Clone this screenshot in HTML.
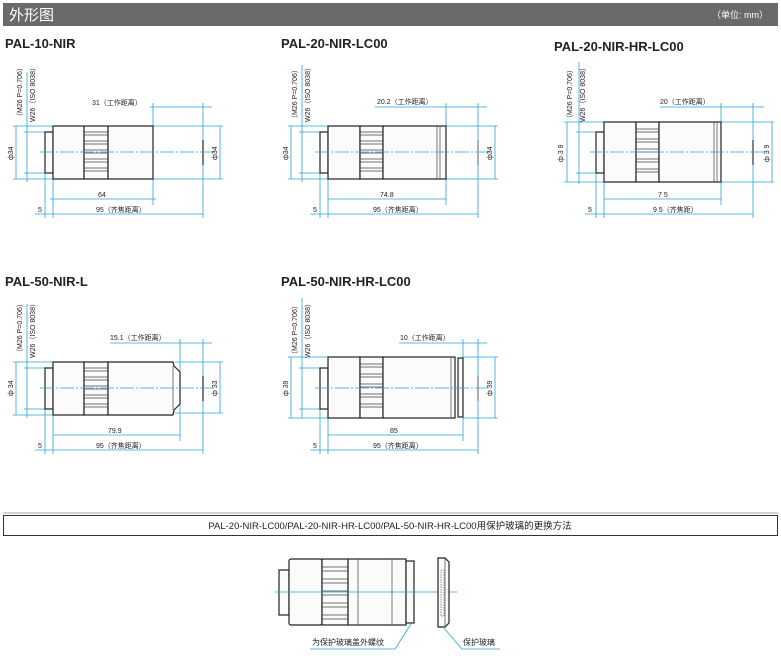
<!DOCTYPE html>
<html><head><meta charset="utf-8"><style>
body{margin:0;background:#fff;width:781px;height:656px;overflow:hidden}
svg{display:block;font-family:"Liberation Sans","Noto Sans CJK SC",sans-serif}
.c{stroke:#2aa3d6;stroke-width:0.8;fill:none}
.cd{stroke:#2aa3d6;stroke-width:0.8;fill:none;stroke-dasharray:14 2 2 2}
.k{stroke:#222;stroke-width:1.2;fill:#fbfbfb}
.kl{stroke:#444;stroke-width:0.7;fill:none}
.t{font-size:7px;fill:#222}
.ti{font-size:13px;font-weight:bold;fill:#222}
</style></head><body>
<svg width="781" height="656" viewBox="0 0 781 656" xmlns="http://www.w3.org/2000/svg">
<rect x="3" y="3" width="775" height="23" fill="#6a6a6a"/>
<text x="9" y="20" font-size="15" fill="#fff">外形图</text>
<text x="712" y="18" font-size="9" fill="#fff">（单位: mm）</text>

<!-- Diagram 1 -->
<g>
<text x="5" y="48" class="ti">PAL-10-NIR</text>
<text transform="translate(22,120) rotate(-90)" class="t">（M26 P=0.706）</text>
<text transform="translate(35,122) rotate(-90)" class="t">W26（ISO 8038）</text>
<path class="c" d="M27 72V182M24 132H45M24 173H45M16 126V179M13 126H53M13 179H53M153 103V205M203 103V218M150 107H212M153 126H223M153 179H223M220 126V179M50 199H153M45 173V218M53 173V218M35 214H53M53 214H203M50 199H156"/>
<rect class="k" x="45" y="132" width="8" height="41"/>
<rect class="k" x="53" y="126" width="31" height="53"/>
<rect class="k" x="84" y="126" width="24" height="53" fill="#eee"/>
<path class="kl" d="M84 132H108M84 135H108M84 141H108M84 144H108M84 150H108M84 153H108M84 159H108M84 162H108M84 168H108M84 171H108"/>
<rect class="k" x="108" y="126" width="45" height="53"/>
<line x1="203" y1="140" x2="203" y2="165" stroke="#222" stroke-width="1.2"/>
<path class="cd" d="M40 152H215"/>
<text x="92" y="105" class="t">31（工作距离）</text>
<text transform="translate(13,160) rotate(-90)" class="t">ф34</text>
<text transform="translate(217,160) rotate(-90)" class="t">ф34</text>
<text x="98" y="197" class="t">64</text>
<text x="38" y="212" class="t">5</text>
<text x="96" y="212" class="t">95（齐焦距离）</text>
</g>

<!-- Diagram 2 -->
<g transform="translate(275,0)">
<text x="6" y="48" class="ti">PAL-20-NIR-LC00</text>
<text transform="translate(22,122) rotate(-90)" class="t">（M26 P=0.706）</text>
<text transform="translate(35,122) rotate(-90)" class="t">W26（ISO 8038）</text>
<path class="c" d="M27 65V182M24 132H45M24 173H45M16 126V179M13 126H53M13 179H53M171 103V205M203 103V218M100 107H212M171 126H223M171 179H223M220 126V179M53 199H171M45 173V218M53 173V218M35 214H53M53 214H203"/>
<rect class="k" x="45" y="132" width="8" height="41"/>
<rect class="k" x="53" y="126" width="32" height="53"/>
<rect class="k" x="85" y="126" width="23" height="53" fill="#eee"/>
<path class="kl" d="M85 132H108M85 135H108M85 141H108M85 144H108M85 150H108M85 153H108M85 159H108M85 162H108M85 168H108M85 171H108"/>
<rect class="k" x="108" y="126" width="63" height="53"/>
<path class="kl" d="M162 126V179M165 126V179" stroke-width="1.2"/>
<line x1="203" y1="140" x2="203" y2="165" stroke="#777" stroke-width="1.2"/>
<path class="cd" d="M40 152H215"/>
<text x="102" y="104" class="t">20.2（工作距离）</text>
<text transform="translate(13,160) rotate(-90)" class="t">ф34</text>
<text transform="translate(217,160) rotate(-90)" class="t">ф34</text>
<text x="105" y="197" class="t">74.8</text>
<text x="38" y="212" class="t">5</text>
<text x="98" y="212" class="t">95（齐焦距离）</text>
</g>

<!-- Diagram 3 -->
<g transform="translate(550,0)">
<text x="4" y="51" class="ti">PAL-20-NIR-HR-LC00</text>
<text transform="translate(22,122) rotate(-90)" class="t">（M26 P=0.706）</text>
<text transform="translate(35,122) rotate(-90)" class="t">W26（ISO 8038）</text>
<path class="c" d="M29 62V184M26 132H45M26 173H45M17 122V182M14 122H54M14 182H54M171 103V205M203 103V218M110 107H214M171 122H224M171 182H224M222 122V182M54 199H171M46 173V218M54 173V218M35 214H54M54 214H203"/>
<rect class="k" x="46" y="132" width="8" height="41"/>
<rect class="k" x="54" y="122" width="32" height="60"/>
<rect class="k" x="86" y="122" width="23" height="60" fill="#eee"/>
<path class="kl" d="M86 129H109M86 132H109M86 139H109M86 142H109M86 149H109M86 152H109M86 159H109M86 162H109M86 169H109M86 172H109"/>
<rect class="k" x="109" y="122" width="62" height="60"/>
<path class="kl" d="M164 122V182M167 122V182" stroke-width="1.2"/>
<line x1="203" y1="140" x2="203" y2="165" stroke="#333" stroke-width="1.2"/>
<path class="cd" d="M40 152H215"/>
<text x="110" y="104" class="t">20（工作距离）</text>
<text transform="translate(13,162) rotate(-90)" class="t">ф 3 9</text>
<text transform="translate(219,162) rotate(-90)" class="t">ф 3 9</text>
<text x="108" y="197" class="t">7 5</text>
<text x="38" y="212" class="t">5</text>
<text x="103" y="212" class="t">9 5（齐焦距）</text>
</g>

<!-- Diagram 4 -->
<g transform="translate(0,236)">
<text x="5" y="50" class="ti">PAL-50-NIR-L</text>
<text transform="translate(22,120) rotate(-90)" class="t">（M26 P=0.706）</text>
<text transform="translate(35,122) rotate(-90)" class="t">W26（ISO 8038）</text>
<path class="c" d="M27 68V182M24 132H45M24 173H45M16 126V179M13 126H53M13 179H53M180 103V205M203 103V218M110 107H212M175 126H223M175 177H223M220 126V177M53 199H180M45 173V218M53 173V218M35 214H53M53 214H203"/>
<rect class="k" x="45" y="132" width="8" height="41"/>
<rect class="k" x="53" y="126" width="31" height="53"/>
<rect class="k" x="84" y="126" width="24" height="53" fill="#eee"/>
<path class="kl" d="M84 132H108M84 135H108M84 141H108M84 144H108M84 150H108M84 153H108M84 159H108M84 162H108M84 168H108M84 171H108"/>
<path class="k" d="M108 126H173L174 130L180 136V168L174 174L173 179H108Z"/>
<path class="kl" d="M173 130V174"/>
<line x1="203" y1="140" x2="203" y2="165" stroke="#222" stroke-width="1.2"/>
<path class="cd" d="M40 152H215"/>
<text x="110" y="104" class="t">15.1（工作距离）</text>
<text transform="translate(13,160) rotate(-90)" class="t">ф 34</text>
<text transform="translate(217,160) rotate(-90)" class="t">ф 33</text>
<text x="108" y="197" class="t">79.9</text>
<text x="38" y="212" class="t">5</text>
<text x="96" y="212" class="t">95（齐焦距离）</text>
</g>

<!-- Diagram 5 -->
<g transform="translate(275,236)">
<text x="6" y="50" class="ti">PAL-50-NIR-HR-LC00</text>
<text transform="translate(22,122) rotate(-90)" class="t">（M26 P=0.706）</text>
<text transform="translate(35,122) rotate(-90)" class="t">W26（ISO 8038）</text>
<path class="c" d="M27 62V182M24 132H45M24 173H45M16 121V182M13 121H53M13 182H53M188 103V205M203 103V218M124 107H212M188 121H223M188 182H223M220 121V182M53 199H188M45 173V218M53 173V218M35 214H53M53 214H203"/>
<rect class="k" x="45" y="132" width="8" height="41"/>
<rect class="k" x="53" y="121" width="32" height="61"/>
<rect class="k" x="85" y="121" width="23" height="61" fill="#eee"/>
<path class="kl" d="M85 128H108M85 131H108M85 138H108M85 141H108M85 148H108M85 151H108M85 158H108M85 161H108M85 168H108M85 171H108"/>
<rect class="k" x="108" y="121" width="72" height="61"/>
<path class="kl" d="M176 121V182" stroke-width="1.2"/>
<rect class="k" x="183" y="122" width="5" height="59"/>
<line x1="203" y1="140" x2="203" y2="165" stroke="#777" stroke-width="1.2"/>
<path class="cd" d="M40 152H215"/>
<text x="125" y="104" class="t">10（工作距离）</text>
<text transform="translate(13,160) rotate(-90)" class="t">ф 39</text>
<text transform="translate(217,160) rotate(-90)" class="t">ф 39</text>
<text x="115" y="197" class="t">85</text>
<text x="38" y="212" class="t">5</text>
<text x="98" y="212" class="t">95（齐焦距离）</text>
</g>

<!-- Bottom section -->
<line x1="3" y1="513" x2="778" y2="513" stroke="#aaa" stroke-width="1"/>
<rect x="3.5" y="515.5" width="774" height="20" fill="#fff" stroke="#333" stroke-width="1"/>
<text x="390" y="529" font-size="9.5" fill="#222" text-anchor="middle">PAL-20-NIR-LC00/PAL-20-NIR-HR-LC00/PAL-50-NIR-HR-LC00用保护玻璃的更换方法</text>

<rect class="k" x="279" y="570" width="10" height="45"/>
<rect class="k" x="289" y="559" width="33" height="66" rx="2"/>
<rect class="k" x="322" y="559" width="26" height="66" fill="#eee"/>
<path class="kl" d="M322 567H348M322 571H348M322 579H348M322 583H348M322 591H348M322 595H348M322 603H348M322 607H348M322 615H348M322 619H348"/>
<rect class="k" x="348" y="559" width="58" height="66"/>
<path class="kl" d="M358 559V625M392 559V625"/>
<rect class="k" x="406" y="561" width="8" height="62"/>
<path class="c" d="M275 592H457"/>
<path class="k" d="M438 558H445L449 562V623L445 627H438Z"/>
<path class="kl" d="M445 558V627"/>
<rect x="441" y="570" width="3" height="46" fill="none" stroke="#444" stroke-width="0.6" stroke-dasharray="1.5 1"/>
<text x="312" y="645" font-size="8" fill="#222">为保护玻璃盖外螺纹</text>
<path class="c" d="M310 649H395L411 624"/>
<text x="463" y="645" font-size="8" fill="#222">保护玻璃</text>
<path class="c" d="M500 649H462L443 627"/>
</svg>
</body></html>
